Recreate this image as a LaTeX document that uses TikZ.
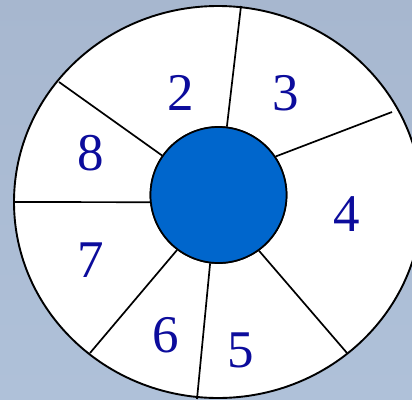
\documentclass[tikz,border=0pt]{standalone}
\usepackage{fontspec}
\setmainfont{Liberation Serif}
\definecolor{bgtop}{HTML}{A7B7CF}
\definecolor{bgbot}{HTML}{AFC1D9}
\definecolor{hub}{HTML}{0066CC}
\definecolor{numblue}{HTML}{0C0C9C}
\tikzset{
  spoke/.style={line width=1.7pt, black},
  rim/.style={line width=1.9pt, black},
  num/.style={text=numblue, font=\fontsize{53}{53}\selectfont, inner sep=0pt},
  hubnode/.style={circle, fill=hub, draw=black, line width=1.7pt, minimum size=136pt, inner sep=0pt}
}
\begin{document}
\begin{tikzpicture}[x=1pt,y=-1pt]
\useasboundingbox (0,0) rectangle (412,399);
\clip (0,0) rectangle (412,399);
\shade[top color=bgtop, bottom color=bgbot] (0,0) rectangle (412,399);
\fill[white] (218,202) ellipse [x radius=204pt, y radius=196pt];
\node[hubnode] (c) at (218.5,195) {};
\coordinate (o23) at (241,6);
\coordinate (o34) at (392,112);
\coordinate (o45) at (347,353);
\coordinate (o56) at (197,399);
\coordinate (o67) at (90,353);
\coordinate (o78) at (14,202);
\coordinate (o82) at (59,82);
\draw[spoke] (c.83.7) -- (o23);
\draw[spoke] (c.34.9) -- (o34);
\draw[spoke] (c.-54) -- (o45);
\draw[spoke] (c.-97) -- (o56);
\draw[spoke] (c.-127) -- (o67);
\draw[spoke] (c.186) -- (o78);
\draw[spoke] (c.145) -- (o82);
\draw[rim] (218,202) ellipse [x radius=204pt, y radius=196pt];
\node[hubnode] at (c) {};
\node[num] (n2) at (181,93) {2};
\node[num] (n3) at (286,93) {3};
\node[num] (n4) at (347,214) {4};
\node[num] (n5) at (241,350) {5};
\node[num] (n6) at (166,335) {6};
\node[num] (n7) at (91,260) {7};
\node[num] (n8) at (91,153) {8};
\end{tikzpicture}
\end{document}
